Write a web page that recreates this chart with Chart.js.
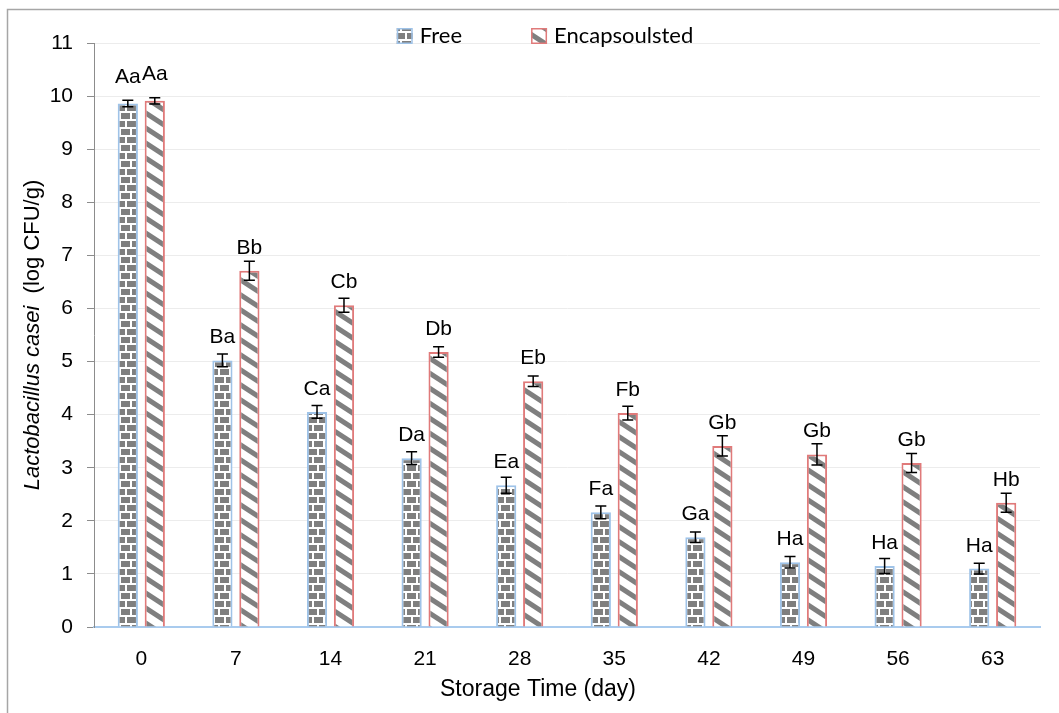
<!DOCTYPE html>
<html>
<head>
<meta charset="utf-8">
<title>Lactobacillus casei viability</title>
<script src="https://cdn.jsdelivr.net/npm/chart.js@4.4.1/dist/chart.umd.min.js"></script>
<style>
    html, body { margin: 0; padding: 0; background: #fff; }
    #wrap { position: relative; width: 1059px; height: 713px; }
</style>
</head>
<body>
<div id="wrap"><canvas id="viability"></canvas></div>
<script>
// Storage days and viable counts (log CFU/g)
const storageDays = ['0', '7', '14', '21', '28', '35', '42', '49', '56', '63'];
const freeCounts = [9.86, 5.02, 4.05, 3.18, 2.67, 2.16, 1.69, 1.22, 1.15, 1.10];
const freeErrors = [0.06, 0.12, 0.12, 0.12, 0.15, 0.12, 0.10, 0.11, 0.14, 0.10];
const encapCounts = [9.91, 6.71, 6.06, 5.18, 4.63, 4.03, 3.41, 3.25, 3.09, 2.34];
const encapErrors = [0.06, 0.18, 0.13, 0.10, 0.10, 0.13, 0.19, 0.20, 0.18, 0.18];
const freeLetters = ['Aa', 'Ba', 'Ca', 'Da', 'Ea', 'Fa', 'Ga', 'Ha', 'Ha', 'Ha'];
const encapLetters = ['Aa', 'Bb', 'Cb', 'Db', 'Eb', 'Fb', 'Gb', 'Gb', 'Gb', 'Hb'];
const yTicks = [0, 1, 2, 3, 4, 5, 6, 7, 8, 9, 10, 11];

const ARIAL = '"Liberation Sans", Arial, sans-serif';
const GREY = '#7f7f7f';

function makeTile(w, h, paint) {
    const c = document.createElement('canvas');
    c.width = w;
    c.height = h;
    const g = c.getContext('2d');
    g.fillStyle = '#fff';
    g.fillRect(0, 0, w, h);
    paint(g, w, h);
    return document.getElementById('viability').getContext('2d').createPattern(c, 'repeat');
}

// grey bricks with white mortar
const brickPattern = makeTile(11, 16, (g) => {
    g.fillStyle = GREY;
    g.fillRect(0, 1, 9, 6);
    g.fillRect(0, 9, 4, 6);
    g.fillRect(6, 9, 5, 6);
});

// wide downward diagonal stripes
const stripePattern = makeTile(23, 15, (g, w, h) => {
    g.fillStyle = GREY;
    const t = 6;
    [-h, 0, h].forEach(c => {
        g.beginPath();
        g.moveTo(0, c);
        g.lineTo(w, c + h);
        g.lineTo(w, c + h + t);
        g.lineTo(0, c + t);
        g.closePath();
        g.fill();
    });
});

const legendItems = [
    { text: 'Free', fill: brickPattern, border: '#9fc3e8' },
    { text: 'Encapsoulsted', fill: stripePattern, border: '#e07a7a' }
];

const decorations = {
    id: 'decorations',
    beforeDraw(chart) {
        const ctx = chart.ctx;
        ctx.save();
        ctx.fillStyle = '#fff';
        ctx.fillRect(0, 0, chart.width, chart.height);
        ctx.strokeStyle = '#a6a6a6';
        ctx.lineWidth = 1.5;
        ctx.strokeRect(7.5, 9.5, chart.width + 50, chart.height + 50);
        ctx.restore();
    },
    afterDatasetsDraw(chart) {
        const ctx = chart.ctx;
        const y = chart.scales.y;
        const errs = [freeErrors, encapErrors];
        const letters = [freeLetters, encapLetters];
        ctx.save();
        chart.data.datasets.forEach((ds, i) => {
            chart.getDatasetMeta(i).data.forEach((bar, j) => {
                const v = ds.data[j];
                const top = y.getPixelForValue(v + errs[i][j]);
                const bot = y.getPixelForValue(v - errs[i][j]);
                ctx.strokeStyle = '#000';
                ctx.lineWidth = 1.5;
                ctx.beginPath();
                ctx.moveTo(bar.x, top);
                ctx.lineTo(bar.x, bot);
                ctx.moveTo(bar.x - 5.5, top);
                ctx.lineTo(bar.x + 5.5, top);
                ctx.moveTo(bar.x - 5.5, bot);
                ctx.lineTo(bar.x + 5.5, bot);
                ctx.stroke();

                ctx.fillStyle = '#000';
                ctx.font = '21px ' + ARIAL;
                ctx.textAlign = 'center';
                ctx.textBaseline = 'alphabetic';
                const lift = j === 0 ? 21 : 17;
                ctx.fillText(letters[i][j], bar.x, bar.y - lift);
            });
        });
        ctx.restore();
    },
    afterDraw(chart) {
        const ctx = chart.ctx;
        const area = chart.chartArea;
        ctx.save();

        // legend
        ctx.font = '22px Lato, "Open Sans", sans-serif';
        ctx.textBaseline = 'alphabetic';
        ctx.textAlign = 'left';
        const widths = legendItems.map(it => 23 + ctx.measureText(it.text).width);
        const total = widths[0] + 69 + widths[1];
        let x = 545 - total / 2;
        legendItems.forEach((it, k) => {
            ctx.fillStyle = it.fill;
            ctx.fillRect(x, 28, 16, 16);
            ctx.strokeStyle = it.border;
            ctx.lineWidth = 1.5;
            ctx.strokeRect(x + 0.75, 28.75, 14.5, 14.5);
            ctx.fillStyle = '#000';
            ctx.fillText(it.text, x + 23, 43);
            x += widths[k] + 69;
        });

        // x title
        ctx.font = '23px ' + ARIAL;
        ctx.textAlign = 'center';
        ctx.textBaseline = 'middle';
        ctx.fillText('Storage Time (day)', 538, 690);

        // y title with italic species name
        const italic = 'italic 22px ' + ARIAL;
        const plain = '22px ' + ARIAL;
        const part1 = 'Lactobacillus casei';
        const part2 = '  (log CFU/g)';
        ctx.font = italic;
        const w1 = ctx.measureText(part1).width;
        ctx.font = plain;
        const w2 = ctx.measureText(part2).width;
        ctx.translate(33, (area.top + area.bottom) / 2);
        ctx.rotate(-Math.PI / 2);
        ctx.textAlign = 'left';
        ctx.font = italic;
        ctx.fillText(part1, -(w1 + w2) / 2, 0);
        ctx.font = plain;
        ctx.fillText(part2, -(w1 + w2) / 2 + w1, 0);
        ctx.restore();
    }
};

new Chart(document.getElementById('viability'), {
    type: 'bar',
    data: {
        labels: storageDays,
        datasets: [{
            label: 'Free',
            data: freeCounts,
            backgroundColor: brickPattern,
            borderColor: '#9fc3e8',
            borderWidth: 2,
            categoryPercentage: 0.57,
            barPercentage: 0.75
        }, {
            label: 'Encapsoulsted',
            data: encapCounts,
            backgroundColor: stripePattern,
            borderColor: '#e07a7a',
            borderWidth: 2,
            categoryPercentage: 0.57,
            barPercentage: 0.75
        }]
    },
    options: {
        responsive: true,
        maintainAspectRatio: false,
        animation: false,
        layout: { padding: { top: 43, right: 19, left: 0, bottom: 0 } },
        plugins: {
            legend: { display: false },
            tooltip: { enabled: false }
        },
        scales: {
            x: {
                grid: { display: false },
                border: { display: true, color: '#a9cbee', width: 2 },
                ticks: { color: '#000', padding: 12, font: { family: ARIAL, size: 21 } },
                afterFit: s => { s.height = 86; }
            },
            y: {
                min: 0,
                max: 11,
                afterBuildTicks: s => { s.ticks = yTicks.map(v => ({ value: v })); },
                grid: { color: '#ececec', tickColor: '#8c8c8c', tickLength: 7 },
                border: { display: true, color: '#8c8c8c', width: 1 },
                ticks: { color: '#000', padding: 14, font: { family: ARIAL, size: 21 } },
                afterFit: s => { s.width = 94; }
            }
        }
    },
    plugins: [decorations]
});
</script>
</body>
</html>
